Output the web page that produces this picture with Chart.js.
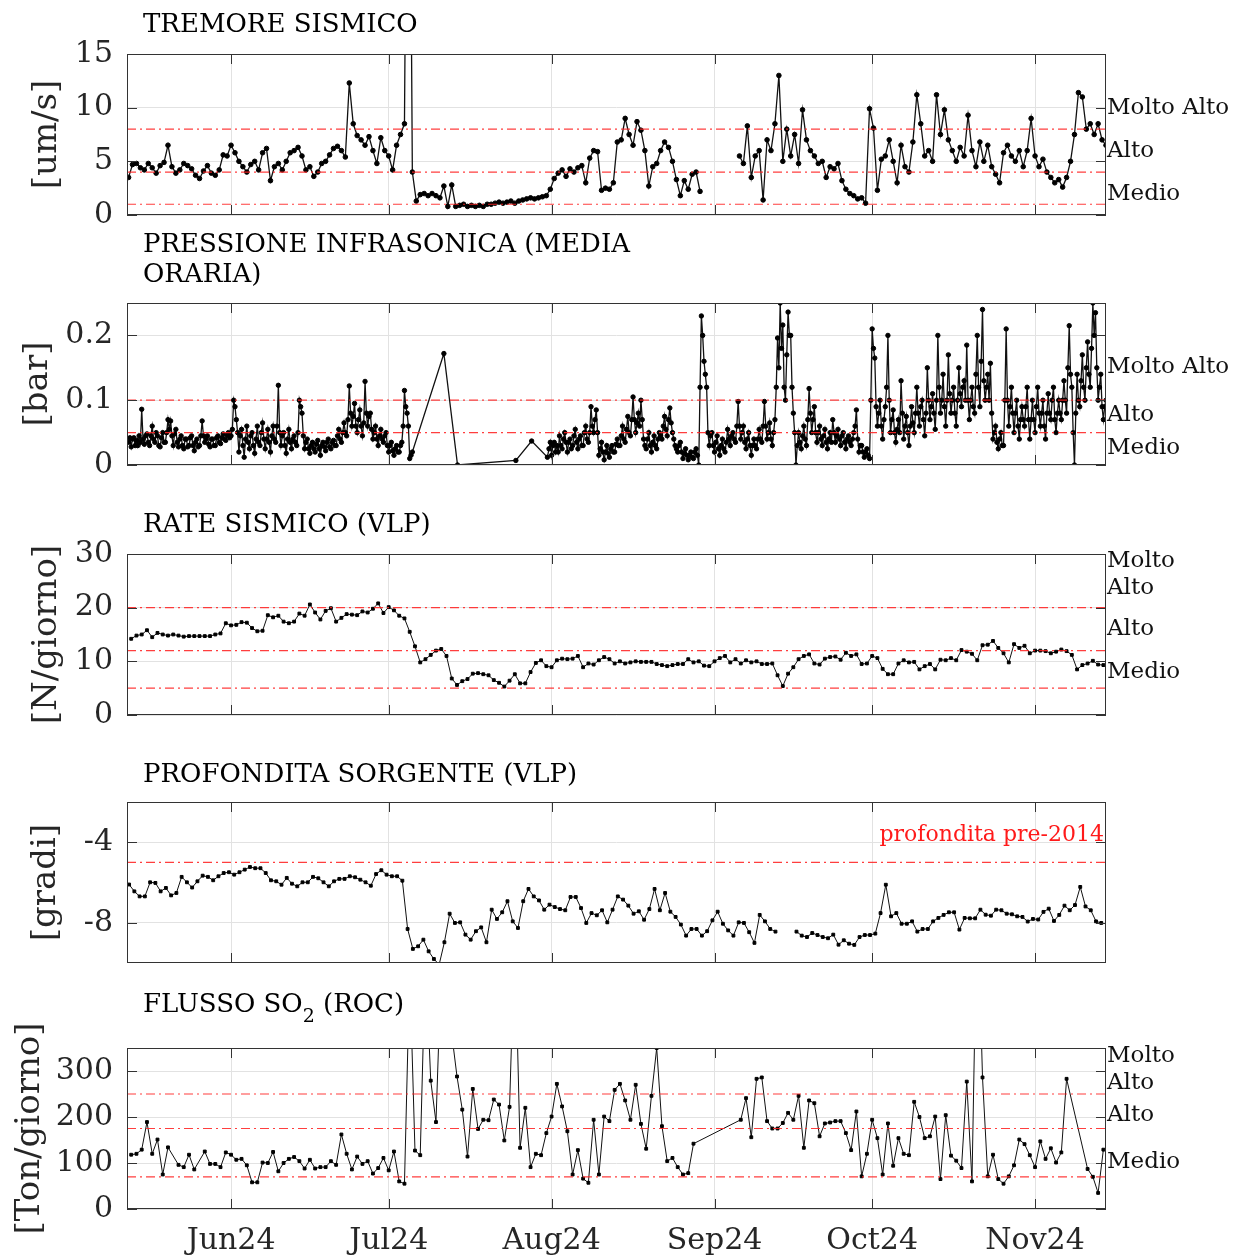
<!DOCTYPE html>
<html>
<head>
<meta charset="utf-8">
<script src="https://cdn.jsdelivr.net/npm/chart.js@4.4.1/dist/chart.umd.min.js"></script>
<style>
  body { margin: 0; background: #fff; }
  #page { position: relative; width: 1236px; height: 1256px; overflow: hidden; background: #fff; }
  canvas { position: absolute; left: 0; }
  .title { position: absolute; left: 143px; font-family: "DejaVu Serif", serif; font-size: 26px; line-height: 30px; color: #000; white-space: nowrap; z-index: 2; }
  .title sub { font-size: 19px; vertical-align: -10px; line-height: 0; }
</style>
</head>
<body>
<div id="page">
  <div class="title" style="top:8px">TREMORE SISMICO</div>
  <div class="title" style="top:228px">PRESSIONE INFRASONICA (MEDIA<br>ORARIA)</div>
  <div class="title" style="top:508px">RATE SISMICO (VLP)</div>
  <div class="title" style="top:758px">PROFONDITA SORGENTE (VLP)</div>
  <div class="title" style="top:988px">FLUSSO SO<sub>2</sub> (ROC)</div>
  <canvas id="c1" width="1236" height="207" style="top:30px"></canvas>
  <canvas id="c2" width="1236" height="208" style="top:279px"></canvas>
  <canvas id="c3" width="1236" height="207" style="top:530px"></canvas>
  <canvas id="c4" width="1236" height="207" style="top:778px"></canvas>
  <canvas id="c5" width="1236" height="232" style="top:1024px"></canvas>
</div>
<script>
// x axis: day of year 2024 (0 = 1 Jan)
const monthDays = [152, 182, 213, 244, 274, 305];
const monthLabels = ["Jun24", "Jul24", "Aug24", "Sep24", "Oct24", "Nov24"];
const dayMin = 132.2;
const dayMax = 318.5;

// TREMORE SISMICO [um/s], one value every 18 h
const tremorStart = 132.5;
const tremorStep = 0.75;
const tremorValues = [
  3.5, 4.7, 4.8, 4.4, 4.2, 4.8, 4.4, 3.9, 4.6, 4.9,
  6.5, 4.5, 3.9, 4.2, 4.8, 4.6, 4.3, 3.7, 3.4, 4.1,
  4.6, 3.9, 3.7, 4.2, 5.6, 5.5, 6.5, 5.8, 5.0, 4.5,
  4.0, 4.7, 5.0, 4.2, 5.8, 6.2, 3.2, 4.5, 4.8, 4.2,
  5.0, 5.8, 6.0, 6.3, 5.5, 4.2, 4.5, 3.6, 4.0, 4.8,
  5.0, 5.6, 6.2, 6.4, 6.0, 5.4, 12.3, 8.5, 7.4, 7.0,
  6.5, 7.3, 6.0, 4.8, 7.2, 6.0, 5.5, 4.2, 6.5, 7.5,
  8.5, 60, 4.0, 1.3, 1.9, 2.0, 1.8, 2.0, 1.8, 1.6,
  2.7, 0.8, 2.8, 0.8, 0.9, 1.0, 0.8, 0.9, 0.8, 0.9,
  0.8, 1.0, 1.0, 1.1, 1.2, 1.1, 1.2, 1.3, 1.1, 1.3,
  1.4, 1.5, 1.6, 1.5, 1.6, 1.7, 1.8, 2.4, 3.4, 3.9,
  4.2, 3.6, 4.3, 4.0, 4.4, 4.6, 3.0, 5.3, 6.0, 5.9,
  2.3, 2.5, 2.4, 3.0, 6.8,
  7.0, 9.0, 7.5, 6.5, 8.7, 7.9, 6.0, 2.7, 4.5, 4.8,
  6.0, 6.8, 6.3, 5.0, 3.3, 1.8, 3.2, 2.4, 3.8, 4.0,
  2.2,
  null, null, null, null, null, null, null, null, null,
  5.5, 4.8, 8.3, 3.5, 5.5, 6.0, 1.4, 7.0, 6.0, 8.5,
  13.0, 5.0, 8.0, 5.5, 7.5, 4.8, 9.8, 7.0, 6.0, 5.5,
  4.8, 5.0, 3.5, 4.5, 4.3, 4.8, 3.2, 2.4, 2.0, 1.8,
  1.5, 1.6, 1.1, 9.9, 8.1, 2.3, 5.2, 5.5, 7.0, 5.0,
  3.0, 6.5, 4.5, 4.0, 6.8, 11.2, 8.5, 5.5, 6.0, 5.0,
  11.2, 7.5, 9.8, 7.0, 6.0, 5.0, 6.3, 5.5, 9.3, 6.0,
  4.5, 6.8, 5.0, 6.5, 4.5, 3.8, 3.0, 5.8, 6.5, 5.5,
  5.0, 6.0, 4.5, 6.0, 9.0, 5.5, 4.5, 5.2, 4.0, 3.5,
  3.0, 3.3, 2.6, 3.5, 5.0, 7.5, 11.4, 11.0, 8.0, 8.5,
  7.5, 8.5, 7.0, 6.5
];
const tremorTicks = [0, 5, 10, 15];
const tremorLevels = [1, 4, 8];
const tremorNames = ["Medio", "Alto", "Molto Alto"];
const tremorNamePos = [2, 6, 10];

// PRESSIONE INFRASONICA [bar], four values a day, sparse stretch in July
const infraStep = 0.25;
const infraStartA = 132.5;
const infraValuesA = [
  0.035, 0.042, 0.028, 0.04,    // 132.5
  0.042, 0.03, 0.038, 0.03,
  0.045, 0.035, 0.086, 0.04,
  0.032, 0.045, 0.048, 0.035,
  0.03, 0.045, 0.06, 0.04,
  0.035, 0.05, 0.045, 0.03,     // 137.5
  0.028, 0.042, 0.05, 0.035,
  0.035, 0.05, 0.07, 0.055,
  0.068, 0.045, 0.03, 0.048,
  0.055, 0.035, 0.028, 0.04,
  0.045, 0.03, 0.025, 0.04,     // 142.5
  0.04, 0.028, 0.03, 0.042,
  0.045, 0.03, 0.022, 0.035,
  0.04, 0.028, 0.03, 0.045,
  0.068, 0.045, 0.035, 0.04,
  0.045, 0.032, 0.028, 0.04,    // 147.5
  0.04, 0.03, 0.03, 0.042,
  0.045, 0.035, 0.033, 0.042,
  0.048, 0.04, 0.038, 0.046,
  0.05, 0.042, 0.045, 0.055,
  0.1, 0.09, 0.07, 0.05,        // 152.5
  0.02, 0.045, 0.055, 0.03,
  0.012, 0.04, 0.06, 0.035,
  0.025, 0.045, 0.05, 0.03,
  0.018, 0.04, 0.06, 0.035,
  0.03, 0.05, 0.065, 0.04,      // 157.5
  0.025, 0.04, 0.055, 0.035,
  0.02, 0.045, 0.06, 0.04,
  0.035, 0.06, 0.123, 0.05,
  0.03, 0.045, 0.05, 0.03,
  0.018, 0.04, 0.055, 0.035,    // 162.5
  0.025, 0.04, 0.045, 0.035,
  0.03, 0.05, 0.1, 0.09,
  0.08, 0.045, 0.025, 0.035,
  0.04, 0.025, 0.018, 0.03,
  0.035, 0.025, 0.02, 0.032,    // 167.5
  0.038, 0.025, 0.015, 0.03,
  0.035, 0.028, 0.022, 0.035,
  0.04, 0.028, 0.025, 0.035,
  0.038, 0.03, 0.03, 0.045,
  0.055, 0.04, 0.035, 0.05,     // 172.5
  0.065, 0.05, 0.045, 0.07,
  0.122, 0.08, 0.06, 0.075,
  0.095, 0.06, 0.05, 0.07,
  0.085, 0.06, 0.045, 0.065,
  0.129, 0.08, 0.06, 0.075,     // 177.5
  0.08, 0.055, 0.04, 0.05,
  0.06, 0.04, 0.03, 0.045,
  0.055, 0.04, 0.035, 0.045,
  0.05, 0.03, 0.02, 0.03,
  0.035, 0.022, 0.015, 0.025,   // 182.5
  0.03, 0.02, 0.02, 0.03,
  0.035, 0.06, 0.115, 0.09,
  0.08, 0.06, 0.01, 0.015,
  0.02
];
const infraSparseDays = [192.5, 195.1, 206.2, 209.2, 212.2];
const infraSparseValues = [0.172, 0.0, 0.007, 0.037, 0.012];
const infraStartB = 212.5;
const infraValuesB = [
  0.025, 0.035, 0.015, 0.03,    // 212.5
  0.035, 0.02, 0.03, 0.02,
  0.045, 0.03, 0.025, 0.04,
  0.05, 0.035, 0.02, 0.035,
  0.04, 0.025, 0.03, 0.045,
  0.055, 0.035, 0.025, 0.04,    // 217.5
  0.045, 0.03, 0.03, 0.05,
  0.06, 0.04, 0.035, 0.05,
  0.09, 0.06, 0.05, 0.07,
  0.085, 0.05, 0.015, 0.025,
  0.035, 0.02, 0.008, 0.02,     // 222.5
  0.03, 0.018, 0.012, 0.025,
  0.03, 0.02, 0.02, 0.032,
  0.04, 0.03, 0.03, 0.045,
  0.06, 0.04, 0.035, 0.055,
  0.075, 0.05, 0.045, 0.07,     // 227.5
  0.105, 0.07, 0.05, 0.065,
  0.08, 0.06, 0.1, 0.07,
  0.04, 0.03, 0.025, 0.04,
  0.05, 0.03, 0.02, 0.035,
  0.045, 0.03, 0.025, 0.04,     // 232.5
  0.05, 0.045, 0.04, 0.06,
  0.075, 0.055, 0.045, 0.07,
  0.088, 0.065, 0.05, 0.04,
  0.03, 0.025, 0.02, 0.03,
  0.035, 0.02, 0.01, 0.018,     // 237.5
  0.025, 0.015, 0.008, 0.015,
  0.02, 0.012, 0.01, 0.02,
  0.025, 0.015, 0.0, 0.12,
  0.23, 0.2, 0.16, 0.14,
  0.12, 0.05, 0.03, 0.045,      // 242.5
  0.05, 0.03, 0.02, 0.035,
  0.045, 0.025, 0.015, 0.03,
  0.04, 0.025, 0.02, 0.035,
  0.055, 0.04, 0.03, 0.045,
  0.05, 0.04, 0.035, 0.06,      // 247.5
  0.098, 0.06, 0.04, 0.05,
  0.06, 0.035, 0.025, 0.04,
  0.05, 0.03, 0.015, 0.03,
  0.04, 0.03, 0.025, 0.04,
  0.055, 0.04, 0.035, 0.06,     // 252.5
  0.098, 0.06, 0.04, 0.05,
  0.065, 0.04, 0.03, 0.05,
  0.07, 0.12, 0.196, 0.15,
  0.25, 0.18, 0.216, 0.12,
  0.1, 0.17, 0.236, 0.2,        // 257.5
  0.2, 0.12, 0.08, 0.05,
  0.0, 0.03, 0.05, 0.035,
  0.025, 0.045, 0.06, 0.04,
  0.03, 0.07, 0.118, 0.08,
  0.05, 0.07, 0.09, 0.05,       // 262.5
  0.035, 0.05, 0.06, 0.04,
  0.03, 0.045, 0.055, 0.035,
  0.025, 0.04, 0.05, 0.035,
  0.07, 0.05, 0.035, 0.045,
  0.055, 0.04, 0.03, 0.045,     // 267.5
  0.05, 0.035, 0.025, 0.04,
  0.045, 0.035, 0.03, 0.04,
  0.05, 0.06, 0.085, 0.04,
  0.02, 0.03, 0.03, 0.02,
  0.012, 0.02, 0.025, 0.015,    // 272.5
  0.01, 0.1, 0.21, 0.18,
  0.165, 0.09, 0.06, 0.08,
  0.1, 0.06, 0.04, 0.07,
  0.09, 0.12, 0.2, 0.1,
  0.05, 0.07, 0.085, 0.05,      // 277.5
  0.035, 0.055, 0.07, 0.05,
  0.13, 0.08, 0.04, 0.06,
  0.075, 0.05, 0.03, 0.06,
  0.09, 0.065, 0.05, 0.08,
  0.12, 0.08, 0.06, 0.09,       // 282.5
  0.1, 0.07, 0.045, 0.08,
  0.15, 0.1, 0.07, 0.09,
  0.11, 0.08, 0.055, 0.1,
  0.2, 0.12, 0.08, 0.1,
  0.14, 0.09, 0.06, 0.1,        // 287.5
  0.17, 0.11, 0.08, 0.1,
  0.12, 0.08, 0.06, 0.1,
  0.15, 0.11, 0.09, 0.12,
  0.13, 0.1, 0.185, 0.1,
  0.07, 0.1, 0.12, 0.09,        // 292.5
  0.08, 0.14, 0.2, 0.12,
  0.09, 0.16, 0.24, 0.13,
  0.1, 0.12, 0.14, 0.1,
  0.157, 0.08, 0.04, 0.05,
  0.06, 0.035, 0.025, 0.04,     // 297.5
  0.05, 0.03, 0.03, 0.1,
  0.21, 0.1, 0.06, 0.09,
  0.12, 0.08, 0.05, 0.08,
  0.1, 0.06, 0.04, 0.07,
  0.09, 0.07, 0.06, 0.09,       // 302.5
  0.12, 0.07, 0.04, 0.07,
  0.1, 0.07, 0.05, 0.09,
  0.12, 0.08, 0.06, 0.08,
  0.1, 0.06, 0.04, 0.08,
  0.11, 0.08, 0.07, 0.1,        // 307.5
  0.12, 0.07, 0.05, 0.08,
  0.1, 0.08, 0.07, 0.1,
  0.13, 0.1, 0.08, 0.15,
  0.215, 0.14, 0.12, 0.05,
  0.0, 0.08, 0.14, 0.1,         // 312.5
  0.09, 0.13, 0.17, 0.12,
  0.1, 0.15, 0.19, 0.14,
  0.12, 0.18, 0.25, 0.2,
  0.235, 0.15, 0.1, 0.12,
  0.14, 0.09, 0.07, 0.09,       // 317.5
  0.1
];
const infraTicks = [0, 0.1, 0.2];
const infraLevels = [0.05, 0.1];
const infraNames = ["Medio", "Alto", "Molto Alto"];
const infraNamePos = [0.026, 0.077, 0.151];

// RATE SISMICO (VLP) [N/giorno], daily
const rateStart = 133;
const rateValues = [
  14.2, 14.8, 15.0, 15.8, 14.5, 15.3, 15.0, 14.8, 15.0, 14.8,
  14.6, 14.7, 14.7, 14.7, 14.7, 14.7, 15.0, 15.2, 17.1, 16.7,
  16.8, 17.3, 17.2, 16.2, 15.6, 15.7, 18.6, 18.2, 18.5, 17.4,
  17.1, 17.4, 18.9, 18.5, 20.6, 19.1, 17.8, 19.4, 19.9, 17.4,
  18.1, 18.8, 18.7, 18.6, 19.3, 19.1, 19.8, 20.8, 19.0, 20.1,
  19.5, 18.5, 18.0, 15.5, 12.8, 9.8, 10.4, 11.2, 12.0, 12.3,
  11.0, 6.8, 5.6, 6.3, 6.7, 7.7, 7.8, 7.6, 7.4, 6.5,
  6.0, 5.3, 6.4, 7.6, 5.9, 5.9, 8.0, 9.7, 10.2, 9.1,
  8.9, 10.2, 10.5, 10.4, 10.5, 11.0, 8.9, 9.6, 9.4,
  10.2, 10.8, 10.4, 9.6, 10.0, 9.6, 9.8, 10.0, 9.9, 9.9,
  9.9, 9.5, 9.3, 9.1, 9.3, 9.5, 9.5, 10.4, 9.8, 10.0,
  9.2, 9.1, 10.0, 10.6, 11.0, 9.8, 10.4, 9.6, 10.2, 9.8,
  10.0, 9.5, 9.5, 9.6, 7.4, 5.4, 7.7, 8.9, 10.4, 11.0,
  11.3, 9.6, 9.4, 10.5, 10.8, 10.9, 10.3, 11.6, 11.0, 11.3,
  9.5, 9.6, 11.0, 10.6, 8.6, 7.6, 7.6, 9.6, 10.2, 9.8,
  9.9, 8.5, 9.1, 9.5, 8.5, 10.3, 10.2, 10.6, 10.2, 12.1,
  11.8, 11.4, 10.2, 13.0, 13.1, 13.8, 12.5, 11.5, 9.8, 13.2,
  12.5, 12.9, 11.5, 12.0, 12.0, 11.9, 11.5, 11.8, 12.2, 11.9,
  11.2, 8.5, 9.3, 9.6, 10.1, 9.4, 9.3
];
const rateTicks = [0, 10, 20, 30];
const rateLevels = [5, 12, 20];
const rateNames = ["Medio", "Alto", ["Molto", "Alto"]];
const rateNamePos = [8, 16, 26.2];

// PROFONDITA SORGENTE (VLP) [gradi], daily
const depthStart = 132.6;
const depthValues = [
  -6.1, -6.44, -6.69, -6.69, -5.99, -6.02, -6.44, -6.27, -6.64, -6.52,
  -5.72, -5.99, -6.25, -5.94, -5.66, -5.72, -5.89, -5.69, -5.53, -5.49,
  -5.61, -5.49, -5.36, -5.23, -5.29, -5.29, -5.53, -5.89, -5.94, -6.11,
  -5.77, -6.06, -6.19, -5.99, -5.99, -5.72, -5.79, -5.99, -6.19, -5.94,
  -5.82, -5.82, -5.69, -5.74, -5.86, -5.99, -6.16, -5.58, -5.39, -5.61,
  -5.69, -5.69, -5.91, -8.31, -9.3, -9.17, -8.84, -9.42, -9.8, -10.08,
  -8.97, -7.55, -8.01, -7.98, -8.59, -8.84, -8.42, -8.23, -8.97, -7.35,
  -7.81, -7.48, -6.93, -7.93, -8.26, -6.93, -6.32, -6.69, -6.89, -7.35,
  -7.1, -7.22, -7.32, -7.38, -6.72, -6.72, -7.27, -8.01, -7.52, -7.63,
  -7.38,
  -7.98, -7.35, -6.69, -6.85, -7.15, -7.55, -7.43, -7.85, -7.32, -6.32,
  -7.38, -6.52, -7.45, -7.71, -8.09, -8.64, -8.31, -8.31, -8.64, -8.42,
  -7.88, -7.45, -8.05, -8.38, -8.64, -7.98, -8.01, -8.47, -9.0, -7.61,
  -7.93, -8.31, -8.44,
  null, null, null,
  -8.44, -8.64, -8.71, -8.51, -8.61, -8.71, -8.77, -8.59, -9.09, -8.87,
  -9.04, -9.1, -8.71, -8.61, -8.61, -8.54, -7.52, -6.11, -7.68, -7.52,
  -8.05, -8.05, -7.93, -8.44, -8.31, -8.31, -7.93, -7.76, -7.61, -7.48,
  -7.48, -8.34, -7.76, -7.78, -7.78, -7.35, -7.6, -7.65, -7.35, -7.38,
  -7.55, -7.58, -7.68, -7.71, -7.94, -7.81, -7.84, -7.46, -7.3, -7.91,
  -7.61, -7.15, -7.38, -7.12, -6.22, -7.19, -7.38, -7.93, -8.01
];
const depthTicks = [-8, -4];
const depthLevels = [-5];

// FLUSSO SO2 (ROC) [Ton/giorno], daily, null = no measurement
const so2Start = 133;
const so2Values = [
  118, 120, 129, 189, 120, 151, 75, 134, null, 96,
  91, 118, 86, null, 125, 98, 98, 91, 123, 118,
  107, 109, 95, 58, 58, 101, 100, 124, 82, 100,
  109, 113, 104, 88, 107, 88, 91, 91, 104, 96,
  162, 120, 86, 114, 98, 104, 77, 89, 111, 84,
  125, 60, 55, 520, 127, 117, 550, 279, 189, 530,
  450, 380, 288, 216, 114, 261, 174, 194, 193, 238,
  227, 149, 222, 600, 133, 220, 91, 120, 117, 165,
  201, 272, 223, 169, 75, 128, 66, 57, 194, 75,
  201, 191, 259, 272, 236, 194, 270, 185, 131, 246,
  350, 180, 104, 111, 91, 75, 78, 142, null, null,
  null, null, null, null, null, null, 194, 241, 156, 283,
  286, 191, 175, 175, 187, 209, 194, 246, 133, 236,
  230, 158, 186, 188, 191, 191, 165, 128, 212, 71,
  120, 194, 154, 75, 186, 94, 154, 120, 117, 233,
  200, 154, 158, 201, 65, 204, 116, 105, 89, 277,
  60, 700, 286, 71, 118, 65, 55, 71, 95, 151,
  141, 117, 91, 147, 109, 132, 101, 123, 283, null,
  null, null, 87, 70, 35, 129
];
const so2Ticks = [0, 100, 200, 300];
const so2Levels = [70, 175, 250];
const so2Names = ["Medio", "Alto", ["Molto", "Alto"]];
const so2NamePos = [102, 204, 303];

const FONT = "'DejaVu Serif', serif";
const GRID = "#e2e2e2";
const RED = "rgba(255, 35, 35, 0.88)";

const series = (start, step, values) =>
  values.map((v, i) => ({ x: start + i * step, y: v }));

// keep the plot box where the layout padding puts it
const noPadV = (s) => { s.paddingTop = 0; s.paddingBottom = 0; };
const noPadH = (s) => { s.paddingLeft = 0; s.paddingRight = 0; };

const boxPlugin = {
  id: "box",
  afterDraw(chart, args, opts) {
    const { ctx, chartArea: a, scales } = chart;
    ctx.save();
    ctx.strokeStyle = "#333";
    ctx.lineWidth = 1;
    ctx.beginPath();
    scales.x.ticks.forEach((t) => {
      const px = Math.round(scales.x.getPixelForValue(t.value)) + 0.5;
      ctx.moveTo(px, a.top);
      ctx.lineTo(px, a.top + 10);
      ctx.moveTo(px, a.bottom);
      ctx.lineTo(px, a.bottom - 10);
    });
    scales.y.ticks.forEach((t) => {
      const py = Math.round(scales.y.getPixelForValue(t.value)) + 0.5;
      ctx.moveTo(a.left, py);
      ctx.lineTo(a.left + 10, py);
      ctx.moveTo(a.right, py);
      ctx.lineTo(a.right - 10, py);
    });
    ctx.stroke();
    ctx.strokeRect(Math.round(a.left) + 0.5, Math.round(a.top) + 0.5,
      Math.round(a.width) - 1, Math.round(a.height) - 1);
    if (opts.note) {
      ctx.fillStyle = "#ff1a1a";
      ctx.font = "22px " + FONT;
      ctx.textAlign = "right";
      ctx.textBaseline = "alphabetic";
      ctx.fillText(opts.note.text, a.right - 2, scales.y.getPixelForValue(opts.note.value));
    }
    ctx.restore();
  },
};

function makePanel(id, p) {
  const datasets = [
    {
      data: p.data,
      borderColor: "#111",
      borderWidth: p.lineWidth || 1,
      pointStyle: p.pointStyle || "rect",
      pointRadius: p.pointRadius || 2,
      pointBackgroundColor: "#000",
      pointBorderColor: "#000",
      pointBorderWidth: 1,
      spanGaps: p.spanGaps || false,
      clip: 0,
      order: 1,
    },
  ];
  p.levels.forEach((lv) => {
    datasets.push({
      data: [{ x: dayMin, y: lv }, { x: dayMax, y: lv }],
      borderColor: RED,
      borderWidth: 1.2,
      borderDash: [9, 4, 2, 4],
      pointRadius: 0,
      order: 0,
    });
  });

  new Chart(document.getElementById(id), {
    type: "line",
    data: { datasets },
    options: {
      responsive: false,
      animation: false,
      devicePixelRatio: 1,
      layout: { padding: { top: 24, left: 0, right: 0, bottom: 0 } },
      elements: { line: { tension: 0 } },
      plugins: {
        legend: { display: false },
        tooltip: { enabled: false },
        box: { note: p.note || null },
      },
      scales: {
        x: {
          type: "linear",
          min: dayMin,
          max: dayMax,
          afterBuildTicks: (s) => { s.ticks = monthDays.map((v) => ({ value: v })); },
          afterFit: (s) => { s.height = p.bottom; noPadH(s); },
          grid: { color: GRID, drawTicks: false },
          border: { display: false },
          ticks: {
            display: p.showX,
            padding: 14,
            color: "#262626",
            font: { family: FONT, size: 30 },
            maxRotation: 0,
            autoSkip: false,
            callback: (v) => monthLabels[monthDays.indexOf(v)],
          },
        },
        y: {
          min: p.min,
          max: p.max,
          afterBuildTicks: (s) => { s.ticks = p.ticks.map((v) => ({ value: v })); },
          afterFit: (s) => { s.width = 127; noPadV(s); },
          grid: { color: GRID, drawTicks: false },
          border: { display: false },
          ticks: {
            padding: 14,
            color: "#262626",
            font: { family: FONT, size: 30 },
            autoSkip: false,
            callback: (v) => String(v),
          },
          title: {
            display: true,
            text: p.unit,
            color: "#262626",
            font: { family: FONT, size: 34 },
            padding: { top: p.unitPad, bottom: 0 },
          },
        },
        y2: {
          position: "right",
          min: p.min,
          max: p.max,
          afterBuildTicks: (s) => { s.ticks = p.namePos.map((v) => ({ value: v })); },
          afterFit: (s) => { s.width = 130; noPadV(s); },
          grid: { display: false, drawTicks: false },
          border: { display: false },
          ticks: {
            padding: 1,
            color: "#111",
            autoSkip: false,
            font: { family: FONT, size: 23 },
            callback: (v, i) => p.names[i],
          },
        },
      },
    },
    plugins: [boxPlugin],
  });
}

const infraData = series(infraStartA, infraStep, infraValuesA)
  .concat(infraSparseDays.map((d, i) => ({ x: d, y: infraSparseValues[i] })))
  .concat(series(infraStartB, infraStep, infraValuesB));

makePanel("c1", {
  data: series(tremorStart, tremorStep, tremorValues),
  min: 0, max: 15, ticks: tremorTicks, levels: tremorLevels,
  names: tremorNames, namePos: tremorNamePos,
  unit: "[um/s]", unitPad: 27, bottom: 22, showX: false,
  pointStyle: "circle", pointRadius: 2.3, lineWidth: 1.3,
});
makePanel("c2", {
  data: infraData,
  min: 0, max: 0.25, ticks: infraTicks, levels: infraLevels,
  names: infraNames, namePos: infraNamePos,
  unit: "[bar]", unitPad: 18, bottom: 22, showX: false,
  pointStyle: "circle", pointRadius: 2.2, lineWidth: 1.3,
});
makePanel("c3", {
  data: series(rateStart, 1, rateValues),
  min: 0, max: 30, ticks: rateTicks, levels: rateLevels,
  names: rateNames, namePos: rateNamePos,
  unit: "[N/giorno]", unitPad: 27, bottom: 22, showX: false,
});
makePanel("c4", {
  data: series(depthStart, 1, depthValues),
  min: -10, max: -2, ticks: depthTicks, levels: depthLevels,
  names: [], namePos: [],
  unit: "[gradi]", unitPad: 26, bottom: 22, showX: false,
  note: { text: "profondita pre-2014", value: -3.95 },
});
makePanel("c5", {
  data: series(so2Start, 1, so2Values),
  min: 0, max: 350, ticks: so2Ticks, levels: so2Levels,
  names: so2Names, namePos: so2NamePos,
  unit: "[Ton/giorno]", unitPad: 10, bottom: 47, showX: true, spanGaps: true,
});
</script>
</body>
</html>
